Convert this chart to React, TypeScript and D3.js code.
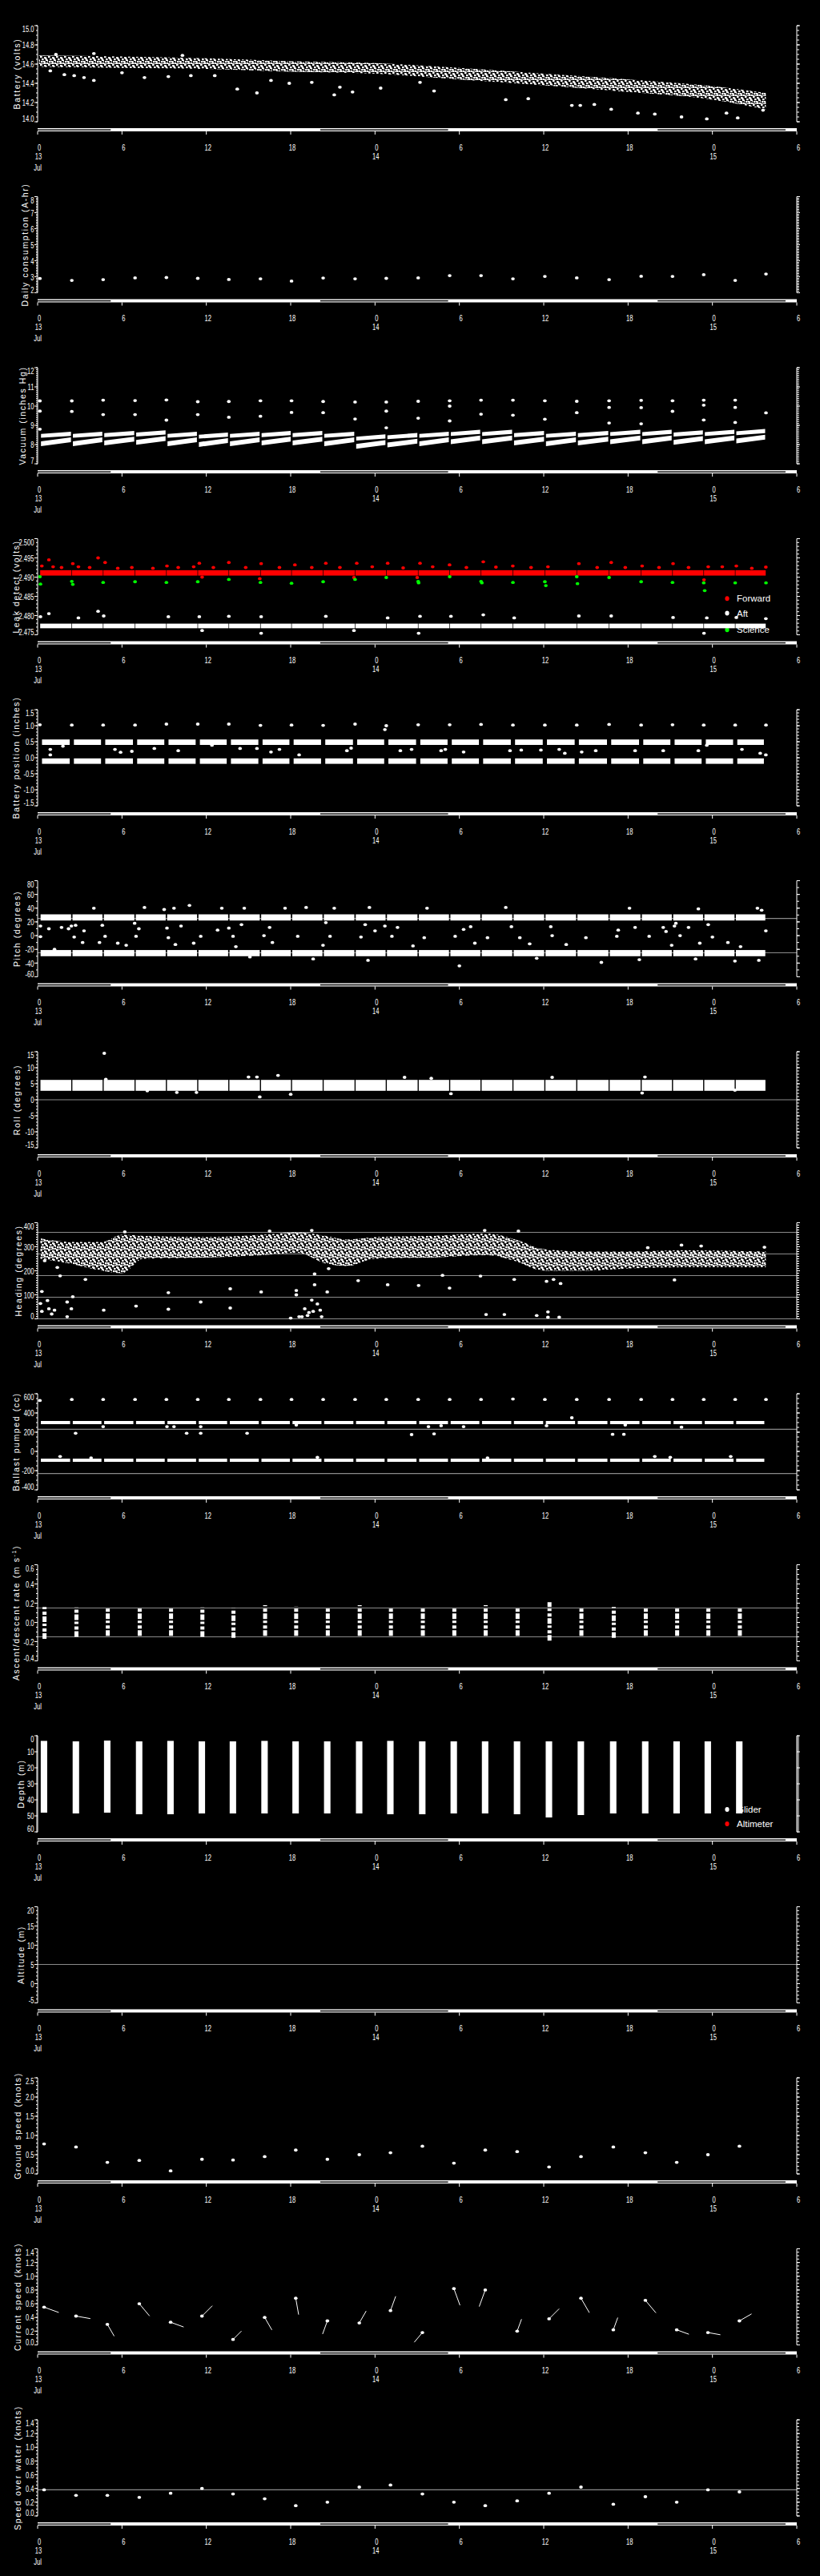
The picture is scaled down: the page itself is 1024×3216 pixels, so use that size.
import React from "react";
import * as d3 from "d3";

const WIDTH = 1024;
const HEIGHT = 3216;
const PLOT_LEFT = 47;
const PLOT_RIGHT = 995;
const FIRST_TOP = 32;
const PANEL_STEP = 213.5;
const PLOT_H = 120;
const FONT = "'Liberation Sans', Arial, sans-serif";
const GREY = "#8a8a8a";

// time axis: hours from 13 Jul 00:00
const hourTicks = [0, 6, 12, 18, 24, 30, 36, 42, 48, 54];
const hourLabels = ["0", "6", "12", "18", "0", "6", "12", "18", "0", "6"];
const dayTicks = [0, 24, 48];
const dayLabels = ["13", "14", "15"];
const nightSpans = [[0, 5.2], [20.1, 29.2], [44.1, 53.2]];

// glider surfacings (hours)
const surfaceTimes = [0.16, 2.43, 4.66, 6.93, 9.16, 11.39, 13.6, 15.85, 18.06, 20.31, 22.58, 24.8,
  27.07, 29.31, 31.54, 33.81, 36.08, 38.35, 40.65, 42.93, 45.16, 47.38, 49.62, 51.81];

// battery (volts)
const batteryBand = [[0.1, 14.57, 14.69], [6, 14.56, 14.68], [12, 14.55, 14.66], [18, 14.52, 14.63],
  [24, 14.5, 14.61], [30, 14.44, 14.56], [36, 14.38, 14.5], [42, 14.31, 14.44], [48, 14.23, 14.37], [51.8, 14.13, 14.3]];
const batteryOutliers = [[0.9, 14.53], [1.3, 14.7], [1.9, 14.49], [2.6, 14.48], [3.3, 14.46], [4.0, 14.43], [4.0, 14.71],
  [6.0, 14.51], [7.6, 14.46], [9.3, 14.47], [10.3, 14.69], [10.9, 14.48], [12.6, 14.48], [14.2, 14.34], [15.6, 14.3],
  [16.6, 14.43], [17.9, 14.4], [19.5, 14.41], [21.1, 14.28], [21.5, 14.36], [22.4, 14.31], [24.4, 14.35], [27.2, 14.41],
  [28.2, 14.32], [33.3, 14.23], [34.9, 14.24], [38.0, 14.17], [38.6, 14.17], [39.6, 14.18], [40.8, 14.13], [42.7, 14.09],
  [43.9, 14.08], [45.8, 14.05], [47.6, 14.03], [49.0, 14.09], [49.8, 14.04], [51.6, 14.12]];

// daily consumption (A-hr), one per surfacing
const consumption = [2.89, 2.77, 2.82, 2.93, 2.95, 2.9, 2.83, 2.87, 2.73, 2.92, 2.87, 2.9, 2.93, 3.07, 3.07,
  2.87, 3.02, 2.93, 2.82, 3.03, 3.02, 3.13, 2.77, 3.17];

// vacuum (inches Hg)
const vacuumSurfHigh = [10.27, 10.27, 10.31, 10.29, 10.32, 10.23, 10.24, 10.28, 10.28, 10.24, 10.21, 10.21,
  10.25, 10.28, 10.31, 10.31, 10.28, 10.25, 10.28, 10.3, 10.28, 10.31, 10.31];
const vacuumSurfLow = [9.74, 9.72, 9.56, 9.56, 9.27, 9.56, 9.42, 9.47, 9.67, 9.66, 9.33, 9.74, 9.37, 9.23,
  9.58, 9.53, 9.32, 9.66, 9.12, 9.08, 9.73, 9.28, 9.15, 9.65];
const vacuumExtra = [[0.16, 8.8], [24.8, 8.87], [29.31, 10.0], [40.65, 9.93], [42.93, 9.92], [47.38, 10.05], [49.62, 9.93]];
const vacuumDiveTop = [8.67, 8.67, 8.71, 8.74, 8.67, 8.63, 8.67, 8.71, 8.71, 8.67, 8.53, 8.6, 8.67, 8.77, 8.77,
  8.71, 8.67, 8.71, 8.77, 8.77, 8.74, 8.77, 8.81];

// leak detect (volts)
const leakForwardBand = [2.4904, 2.4918];
const leakAftBand = [2.4767, 2.4779];
const leakForwardSpikes = [[0.3, 2.4929], [0.8, 2.4945], [1.1, 2.4927], [1.7, 2.4925], [2.5, 2.4935], [2.9, 2.4927],
  [3.7, 2.4925], [4.3, 2.495], [4.8, 2.4938], [5.7, 2.4923], [6.7, 2.4925], [8.2, 2.4923], [9.2, 2.4929], [10.0, 2.4925],
  [11.1, 2.4927], [11.5, 2.4936], [11.7, 2.49], [12.5, 2.4925], [13.6, 2.4938], [14.8, 2.4925], [15.9, 2.4935],
  [15.8, 2.4896], [17.2, 2.4925], [18.3, 2.4932], [19.5, 2.4925], [20.5, 2.4936], [21.5, 2.4925], [22.5, 2.4899],
  [22.7, 2.4936], [23.8, 2.4927], [24.9, 2.4936], [26.0, 2.4924], [27.0, 2.4899], [27.2, 2.4936], [28.1, 2.4927],
  [29.3, 2.4932], [30.5, 2.4925], [31.7, 2.494], [32.6, 2.4926], [33.8, 2.4929], [35.1, 2.4925], [36.3, 2.4927],
  [38.5, 2.4935], [39.8, 2.4925], [40.8, 2.4938], [41.8, 2.4925], [43.0, 2.4929], [44.2, 2.4925], [45.2, 2.4935],
  [46.3, 2.4925], [47.4, 2.4893], [47.7, 2.4927], [48.7, 2.4927], [49.7, 2.4929], [50.8, 2.4923], [51.8, 2.4926]];
const leakAftSpikes = [[0.2, 2.4797], [0.8, 2.4805], [2.9, 2.4794], [4.3, 2.4811], [4.7, 2.4799], [9.3, 2.4797],
  [11.5, 2.4797], [11.7, 2.4761], [13.6, 2.4798], [15.9, 2.4797], [15.9, 2.4754], [20.5, 2.4798], [22.5, 2.4761],
  [24.9, 2.4794], [27.2, 2.4798], [27.1, 2.4754], [29.4, 2.4798], [31.7, 2.4802], [33.9, 2.4794], [38.5, 2.4799],
  [40.8, 2.4799], [45.2, 2.4795], [47.4, 2.4754], [47.6, 2.4794], [49.7, 2.4795], [51.8, 2.4792]];
const leakScience = [[0.16, 2.4901], [0.2, 2.4882], [2.43, 2.4889], [2.5, 2.4881], [4.66, 2.4886], [6.93, 2.4888],
  [9.16, 2.4886], [11.39, 2.4888], [13.6, 2.4894], [15.85, 2.4886], [18.06, 2.4884], [20.31, 2.4888], [22.58, 2.4894],
  [24.8, 2.4899], [27.07, 2.4889], [27.1, 2.4885], [29.31, 2.4901], [31.54, 2.4889], [31.6, 2.4885], [33.81, 2.4886],
  [36.08, 2.4888], [36.15, 2.4878], [38.35, 2.4901], [38.4, 2.4883], [40.65, 2.4899], [42.93, 2.4888], [45.16, 2.4886],
  [47.38, 2.4885], [47.45, 2.4865], [49.62, 2.4885], [51.81, 2.4885]];

// battery position (inches)
const battPosSurface = [1.03, 1.02, 1.02, 1.02, 1.05, 1.05, 1.05, 1.01, 1.02, 1.01, 1.05, 1.0, 1.03, 1.03, 1.04,
  1.02, 1.02, 1.02, 1.04, 1.02, 1.03, 1.02, 1.02, 1.02];
const battPosUpper = [0.4, 0.57];
const battPosLower = [-0.19, -0.02];
const battPosScatter = [[0.9, 0.09], [0.9, 0.26], [1.8, 0.36], [5.5, 0.26], [5.9, 0.17], [6.7, 0.2], [8.3, 0.29],
  [10.0, 0.22], [12.4, 0.39], [14.4, 0.29], [15.6, 0.29], [16.6, 0.18], [17.2, 0.26], [18.6, 0.09], [22.0, 0.22],
  [22.3, 0.3], [24.7, 0.88], [25.8, 0.22], [26.6, 0.26], [28.7, 0.22], [29.0, 0.26], [30.3, 0.18], [33.6, 0.22],
  [34.4, 0.24], [35.8, 0.24], [37.1, 0.26], [37.5, 0.14], [38.7, 0.18], [39.7, 0.22], [42.5, 0.22], [44.5, 0.22],
  [47.0, 0.22], [47.6, 0.39], [50.1, 0.26], [51.4, 0.14], [51.8, 0.09]];

// pitch (degrees)
const pitchUpBand = [22, 31];
const pitchDownBand = [-30, -21];
const pitchScatter = [[0.2, 14], [0.2, -1.5], [0.8, 10], [1.2, -20], [1.7, 12], [2.2, 10], [2.4, 14], [2.6, -2],
  [2.7, 15], [3.3, 7], [3.2, -10], [4.0, 40], [4.4, -10], [4.6, 15], [4.8, -1], [5.7, -11], [6.3, -14], [6.9, 18],
  [7.0, -1], [7.2, 10], [7.6, 41], [9.0, 38], [9.2, 11], [9.3, -3], [9.7, 40], [9.8, -13], [10.2, 14], [10.8, 44],
  [11.1, -11], [11.6, -1], [12.8, 8], [13.1, 40], [13.6, 11], [13.9, -1], [14.1, -16], [14.5, 16], [14.7, 40],
  [15.1, -31], [16.1, 0], [16.5, 12], [16.7, -10], [17.6, 40], [18.5, -1], [19.1, 41], [19.6, -34], [20.3, -14],
  [20.5, 19], [20.8, -1], [21.1, 40], [23.0, -2], [23.3, 16], [23.5, -36], [23.6, 41], [24.0, 7], [24.7, 14],
  [25.2, -1], [25.6, 12], [26.7, -15], [27.5, -3], [27.7, 40], [29.7, -1], [30.0, -44], [30.3, 9], [30.8, 13],
  [31.1, -11], [32.0, -3], [33.3, 41], [33.7, 13], [34.3, -3], [35.0, -12], [35.5, -33], [36.6, 0], [36.5, 13],
  [37.6, -13], [39.0, -3], [40.1, -39], [41.2, -1], [41.3, 8], [42.1, 40], [42.5, 12], [42.8, -35], [43.5, -1],
  [44.5, 12], [44.7, 6], [45.1, -14], [45.4, 18], [45.3, 14], [45.7, 0], [46.3, 12], [46.8, -34], [47.0, 39],
  [47.1, -11], [47.7, 16], [48.0, -2], [49.1, -10], [49.6, -37], [50.0, -16], [51.2, 40], [51.5, 37], [51.3, -36], [51.8, 7]];

// roll (degrees)
const rollBand = [2.8, 6.2];
const rollScatter = [[4.74, 14.5], [4.85, 6.4], [15.8, 0.9], [18.0, 1.7], [17.1, 7.6], [15.0, 7.1], [15.6, 7.1],
  [43.2, 7.1], [36.6, 7.0], [29.4, 1.9], [11.3, 2.3], [9.9, 2.3], [7.8, 2.8], [26.1, 7.0], [28.0, 6.7], [43.0, 2.1], [49.6, 3.0]];

// heading (degrees)
const headingBand = [[0.2, 250, 335], [2.3, 230, 320], [4.6, 200, 320], [6, 190, 350], [7.5, 250, 345], [12, 255, 340],
  [16, 265, 350], [18.5, 275, 360], [20.5, 230, 345], [22, 220, 330], [24, 250, 340], [28, 255, 345], [32, 265, 355],
  [34, 240, 330], [36, 200, 290], [39, 200, 280], [42, 210, 280], [46, 215, 285], [51.8, 215, 280]];
const headingScatter = [[0.3, 114], [0.2, 64], [0.3, 31], [0.7, 76], [0.8, 42], [1.0, 20], [1.2, 36], [0.5, 242],
  [1.4, 214], [1.6, 179], [2.1, 9], [2.1, 70], [2.4, 42], [2.5, 92], [3.4, 164], [4.7, 36], [7.0, 53], [9.3, 109],
  [9.3, 40], [11.6, 70], [13.7, 45], [13.7, 125], [15.9, 112], [18.0, 3], [18.4, 100], [18.4, 118], [18.6, 9],
  [18.8, 9], [19.0, 42], [19.2, 14], [19.3, 26], [19.5, 78], [19.6, 31], [19.7, 142], [19.9, 62], [20.1, 36],
  [20.2, 9], [20.6, 112], [19.7, 187], [20.7, 209], [22.8, 159], [24.9, 142], [27.1, 139], [28.8, 181], [29.3, 128],
  [31.5, 178], [31.9, 18], [33.2, 18], [33.9, 164], [35.5, 14], [36.3, 29], [36.3, 7], [37.1, 7], [36.2, 156],
  [36.7, 164], [37.2, 147], [45.3, 162], [43.4, 296], [45.8, 307], [47.2, 303], [51.7, 298], [6.2, 362], [16.5, 365],
  [19.5, 368], [31.8, 368], [34.2, 365]];

// ballast pumped (cc)
const ballastSurface = [530, 540, 540, 540, 540, 540, 540, 540, 540, 540, 540, 540, 540, 540, 540, 545, 540,
  540, 540, 540, 540, 540, 540, 540];
const ballastHigh = 300;
const ballastLow = -92;
const ballastScatter = [[4.66, 258], [9.2, 258], [9.7, 258], [11.6, 258], [2.7, 189], [10.6, 189], [11.6, 189],
  [14.9, 189], [26.6, 175], [28.2, 183], [27.8, 258], [28.7, 267], [30.3, 258], [36.2, 267], [38.0, 350], [40.9, 178],
  [41.7, 178], [41.8, 275], [45.8, 253], [18.4, 275], [1.6, -53], [3.8, -67], [19.9, -61], [32.0, -67], [43.9, -53],
  [45.0, -61], [49.3, -53]];

// ascent/descent rate (m/s), per dive
const rateMin = [-0.17, -0.15, -0.14, -0.14, -0.14, -0.15, -0.16, -0.14, -0.14, -0.14, -0.14, -0.14, -0.14, -0.14,
  -0.14, -0.14, -0.19, -0.14, -0.16, -0.14, -0.14, -0.14, -0.14];
const rateMax = [0.16, 0.16, 0.16, 0.16, 0.16, 0.16, 0.15, 0.18, 0.17, 0.16, 0.18, 0.16, 0.16, 0.16, 0.18, 0.16,
  0.21, 0.15, 0.16, 0.16, 0.16, 0.16, 0.16];

// depth (m), per dive
const depthMin = [3.2, 3.5, 3.0, 3.5, 3.2, 3.5, 3.5, 3.2, 3.5, 3.5, 3.5, 3.2, 3.5, 3.5, 3.5, 3.5, 3.5, 3.5, 3.5,
  3.5, 3.5, 3.5, 3.5];
const depthMax = [48, 48.5, 48, 49, 49, 48.5, 48.5, 48.5, 48.5, 48.5, 48.5, 49, 49, 48.5, 48.5, 49, 51, 49.5, 48.5,
  48.5, 48.5, 48.5, 48.5];

// speeds (knots), one per dive
const groundSpeed = [0.78, 0.7, 0.3, 0.35, 0.08, 0.38, 0.36, 0.45, 0.62, 0.38, 0.5, 0.55, 0.72, 0.28, 0.62, 0.58,
  0.18, 0.45, 0.7, 0.55, 0.3, 0.5, 0.72];
const currentSpeed = [0.55, 0.42, 0.3, 0.6, 0.33, 0.42, 0.08, 0.4, 0.68, 0.35, 0.32, 0.5, 0.18, 0.82, 0.8, 0.2,
  0.38, 0.68, 0.22, 0.65, 0.22, 0.18, 0.35];
const currentDir = [110, 100, 150, 140, 110, 45, 45, 150, 170, 200, 30, 20, 220, 160, 200, 20, 45, 150, 20, 140,
  110, 100, 60];
const speedOverWater = [0.38, 0.3, 0.3, 0.27, 0.33, 0.4, 0.32, 0.25, 0.15, 0.2, 0.42, 0.45, 0.32, 0.2, 0.15, 0.22,
  0.33, 0.42, 0.17, 0.28, 0.2, 0.38, 0.35];

// irregular speckle used to texture the dense point clouds
const speckCells = [[0, 0], [5, 1], [2, 3], [7, 4], [1, 6], [4, 6], [8, 8], [3, 9], [6, 2], [9, 5], [0, 9], [5, 8]];

const x = d3.scaleLinear().domain([0, 54]).range([PLOT_LEFT, PLOT_RIGHT]);
const dives = surfaceTimes.slice(0, -1).map((s, i) => [s, surfaceTimes[i + 1]]);

type Y = d3.ScaleLinear<number, number>;

const Label = ({ x: tx, y: ty, anchor = "middle", children }: any) => (
  <text transform={`translate(${tx},${ty}) scale(0.66,1)`} textAnchor={anchor} dy="0.36em" fontSize={11.5}
    fill="#fff" fontFamily={FONT}>{children}</text>
);

const Dot = ({ cx, cy, fill = "#fff" }: any) => <ellipse cx={cx} cy={cy} rx={2.3} ry={1.9} fill={fill} />;

function diveRects(y: Y, lo: number, hi: number, fill: string, inset = 0.06) {
  return dives.map(([a, b], i) => {
    const y1 = y(lo), y2 = y(hi);
    return <rect key={i} x={x(a + inset)} width={x(b - inset) - x(a + inset)} y={Math.min(y1, y2)}
      height={Math.abs(y1 - y2)} fill={fill} />;
  });
}

function Legend({ items, top }: { items: [string, string, number][]; top: number }) {
  return (
    <g>
      {items.map(([name, c, dy]) => (
        <g key={name}>
          <ellipse cx={908} cy={top + dy} rx={2.6} ry={3} fill={c} />
          <text x={920} y={top + dy} dy="0.36em" fontSize={11.5} fill="#fff" fontFamily={FONT}>{name}</text>
        </g>
      ))}
    </g>
  );
}

function TimeAxis({ top }: { top: number }) {
  const yb = top + 128;
  return (
    <g>
      <rect x={x(0)} y={yb} width={x(54) - x(0)} height={4} fill="#fff" />
      {nightSpans.map(([a, b], i) => (
        <rect key={i} x={x(a)} y={yb + 1.4} width={x(b) - x(a)} height={1.4} fill="#000" />
      ))}
      {hourTicks.map((h) => (
        <line key={h} x1={x(h)} x2={x(h)} y1={yb + 4} y2={yb + 8} stroke="#fff" />
      ))}
      {hourTicks.map((h, i) => (
        <Label key={h} x={x(h) + 2} y={top + 151.5}>{hourLabels[i]}</Label>
      ))}
      {dayTicks.map((h, i) => (
        <Label key={h} x={x(h) + 1} y={top + 162.5}>{dayLabels[i]}</Label>
      ))}
      <Label x={x(0)} y={top + 176.5}>Jul</Label>
    </g>
  );
}

type PanelProps = {
  index: number;
  label: React.ReactNode;
  labelX: number;
  domain: [number, number];
  ticks: number[];
  fmt: (v: number) => string;
  minorCount: number;
  flip?: boolean;
  refLines?: number[];
  children: (y: Y, top: number) => React.ReactNode;
};

function Panel({ index, label, labelX, domain, ticks, fmt, minorCount, flip, refLines = [], children }: PanelProps) {
  const top = FIRST_TOP + index * PANEL_STEP;
  const bottom = top + PLOT_H;
  const y = d3.scaleLinear().domain(domain).range(flip ? [top, bottom] : [bottom, top]);
  const minor = d3.range(minorCount + 1).map((i) => domain[0] + (i * (domain[1] - domain[0])) / minorCount);
  return (
    <g>
      {refLines.map((v) => (
        <line key={v} x1={PLOT_LEFT} x2={PLOT_RIGHT} y1={y(v)} y2={y(v)} stroke={GREY} strokeWidth={1.2} />
      ))}
      {children(y, top)}
      <line x1={PLOT_LEFT} x2={PLOT_LEFT} y1={top} y2={bottom} stroke="#fff" />
      <line x1={PLOT_RIGHT} x2={PLOT_RIGHT} y1={top} y2={bottom} stroke="#fff" />
      {minor.map((v, i) => (
        <g key={i}>
          <line x1={PLOT_LEFT - 2} x2={PLOT_LEFT} y1={y(v)} y2={y(v)} stroke="#fff" />
          <line x1={PLOT_RIGHT} x2={PLOT_RIGHT + 3} y1={y(v)} y2={y(v)} stroke="#fff" />
        </g>
      ))}
      {ticks.map((v) => {
        const yy = y(v);
        const ly = Math.abs(yy - top) < 1 ? yy + 4 : Math.abs(yy - bottom) < 1 ? yy - 4 : yy;
        return (
          <g key={v}>
            <line x1={PLOT_LEFT - 4} x2={PLOT_LEFT} y1={yy} y2={yy} stroke="#fff" />
            <line x1={PLOT_RIGHT} x2={PLOT_RIGHT + 4} y1={yy} y2={yy} stroke="#fff" />
            <Label x={PLOT_LEFT - 4.5} y={ly} anchor="end">{fmt(v)}</Label>
          </g>
        );
      })}
      <text transform={`translate(${labelX},${top + 60}) rotate(-90)`} textAnchor="middle" dy="0.35em"
        fontSize={10.5} letterSpacing={1.6} fill="#fff" fontFamily={FONT}>{label}</text>
      <TimeAxis top={top} />
    </g>
  );
}

const f = (spec: string) => (v: number) => d3.format(spec)(v).replace("\u2212", "-");

function App() {
  const diveMid = (i: number) => dives[i][0] + 0.3;
  const area = (y: Y) => d3.area<number[]>().x((d) => x(d[0])).y0((d) => y(d[1])).y1((d) => y(d[2]))
    .curve(d3.curveMonotoneX);
  return (
    <svg width={WIDTH} height={HEIGHT} style={{ position: "absolute", left: 0, top: 0, background: "#000" }}>
      <defs>
        <pattern id="speck" width="10" height="10" patternUnits="userSpaceOnUse">
          {speckCells.map(([cx, cy], i) => <rect key={i} x={cx} y={cy} width={2.6} height={2.2} fill="#fff" />)}
        </pattern>
      </defs>
      <rect width={WIDTH} height={HEIGHT} fill="#000" />

      <Panel index={0} label="Battery (volts)" labelX={21.5} domain={[14, 15]} ticks={d3.range(14, 15.01, 0.2)}
        fmt={f(".1f")} minorCount={20}>
        {(y) => (
          <g>
            <path d={area(y)(batteryBand) || ""} fill="url(#speck)" />
            {batteryOutliers.map(([h, v], i) => <Dot key={i} cx={x(h)} cy={y(v)} />)}
          </g>
        )}
      </Panel>

      <Panel index={1} label="Daily consumption (A-hr)" labelX={31.5} domain={[2, 8]} ticks={d3.range(2, 8.01, 1)}
        fmt={f("d")} minorCount={60}>
        {(y) => consumption.map((v, i) => <Dot key={i} cx={x(surfaceTimes[i])} cy={y(v)} />)}
      </Panel>

      <Panel index={2} label="Vacuum (inches Hg)" labelX={28.5} domain={[7, 12]} ticks={d3.range(7, 12.01, 1)}
        fmt={f("d")} minorCount={50}>
        {(y) => (
          <g>
            {dives.map(([a, b], i) => {
              const t = vacuumDiveTop[i];
              const xa = x(a + 0.08), xb = x(b - 0.06);
              const up = `${xa},${y(t - 0.32)} ${xa},${y(t - 0.12)} ${xb},${y(t)} ${xb},${y(t - 0.22)}`;
              const lo = `${xa},${y(t - 0.75)} ${xa},${y(t - 0.5)} ${xb},${y(t - 0.3)} ${xb},${y(t - 0.55)}`;
              return (
                <g key={i}>
                  <polygon points={up} fill="#fff" />
                  <polygon points={lo} fill="#fff" />
                </g>
              );
            })}
            {vacuumSurfHigh.map((v, i) => <Dot key={"h" + i} cx={x(surfaceTimes[i])} cy={y(v)} />)}
            {vacuumSurfLow.map((v, i) => <Dot key={"l" + i} cx={x(surfaceTimes[i])} cy={y(v)} />)}
            {vacuumExtra.map(([h, v], i) => <Dot key={"e" + i} cx={x(h)} cy={y(v)} />)}
          </g>
        )}
      </Panel>

      <Panel index={3} label="Leak detect (volts)" labelX={20} domain={[2.475, 2.5]}
        ticks={d3.range(0, 6).map((i) => 2.475 + i * 0.005)} fmt={f(".3f")} minorCount={25}>
        {(y, top) => (
          <g>
            <Legend top={top} items={[["Forward", "#ff0000", 74.7], ["Aft", "#fff", 93], ["Science", "#00ff00", 113.7]]} />
            {diveRects(y, leakForwardBand[0], leakForwardBand[1], "#ff0000", 0.02)}
            {leakForwardSpikes.map(([h, v], i) => <Dot key={"f" + i} cx={x(h)} cy={y(v)} fill="#ff0000" />)}
            {diveRects(y, leakAftBand[0], leakAftBand[1], "#fff", 0.02)}
            {leakAftSpikes.map(([h, v], i) => <Dot key={"a" + i} cx={x(h)} cy={y(v)} />)}
            {leakScience.map(([h, v], i) => <Dot key={"s" + i} cx={x(h)} cy={y(v)} fill="#00ff00" />)}
          </g>
        )}
      </Panel>

      <Panel index={4} label="Battery position (inches)" labelX={20.7} domain={[-1.5, 1.5]}
        ticks={d3.range(-1.5, 1.51, 0.5)} fmt={f(".1f")} minorCount={30}>
        {(y) => (
          <g>
            {diveRects(y, battPosUpper[0], battPosUpper[1], "#fff", 0.15)}
            {diveRects(y, battPosLower[0], battPosLower[1], "#fff", 0.15)}
            {battPosSurface.map((v, i) => <Dot key={"s" + i} cx={x(surfaceTimes[i])} cy={y(v)} />)}
            {battPosScatter.map(([h, v], i) => <Dot key={"p" + i} cx={x(h)} cy={y(v)} />)}
          </g>
        )}
      </Panel>

      <Panel index={5} label="Pitch (degrees)" labelX={21.7} domain={[-60, 80]} ticks={d3.range(-60, 81, 20)}
        fmt={f("d")} minorCount={14} refLines={[25, -25]}>
        {(y) => (
          <g>
            {diveRects(y, pitchUpBand[0], pitchUpBand[1], "#fff", 0.05)}
            {diveRects(y, pitchDownBand[0], pitchDownBand[1], "#fff", 0.05)}
            {pitchScatter.map(([h, v], i) => <Dot key={i} cx={x(h)} cy={y(v)} />)}
          </g>
        )}
      </Panel>

      <Panel index={6} label="Roll (degrees)" labelX={21.7} domain={[-15, 15]} ticks={d3.range(-15, 16, 5)}
        fmt={f("d")} minorCount={30} refLines={[0]}>
        {(y) => (
          <g>
            {diveRects(y, rollBand[0], rollBand[1], "#fff", 0.04)}
            {rollScatter.map(([h, v], i) => <Dot key={i} cx={x(h)} cy={y(v)} />)}
          </g>
        )}
      </Panel>

      <Panel index={7} label="Heading (degrees)" labelX={23.3} domain={[0, 400]} ticks={d3.range(0, 401, 100)}
        fmt={f("d")} minorCount={40} refLines={[0, 90, 180, 270, 360]}>
        {(y) => (
          <g>
            <path d={area(y)(headingBand) || ""} fill="url(#speck)" />
            {headingScatter.map(([h, v], i) => <Dot key={i} cx={x(h)} cy={y(v)} />)}
          </g>
        )}
      </Panel>

      <Panel index={8} label="Ballast pumped (cc)" labelX={20} domain={[-400, 600]} ticks={d3.range(-400, 601, 200)}
        fmt={f("d")} minorCount={20} refLines={[230, -230]}>
        {(y) => (
          <g>
            {dives.map(([a, b], i) => (
              <g key={i}>
                <rect x={x(a + 0.07)} width={x(b - 0.12) - x(a + 0.07)} y={y(ballastHigh) - 2} height={4} fill="#fff" />
                <rect x={x(a + 0.07)} width={x(b - 0.12) - x(a + 0.07)} y={y(ballastLow) - 2} height={4} fill="#fff" />
              </g>
            ))}
            {ballastSurface.map((v, i) => <Dot key={"s" + i} cx={x(surfaceTimes[i])} cy={y(v)} />)}
            {ballastScatter.map(([h, v], i) => <Dot key={"p" + i} cx={x(h)} cy={y(v)} />)}
          </g>
        )}
      </Panel>

      <Panel index={9} label={<>Ascent/descent rate (m s<tspan dy="-4" fontSize={7}>-1</tspan><tspan dy="4">)</tspan></>}
        labelX={20} domain={[-0.4, 0.6]} ticks={d3.range(-0.4, 0.61, 0.2)} fmt={f(".1f")} minorCount={20}
        refLines={[0.15, -0.15]}>
        {(y) => dives.map(([a], i) => (
          <line key={i} x1={x(a + 0.33)} x2={x(a + 0.33)} y1={y(rateMin[i])} y2={y(rateMax[i])} stroke="#fff"
            strokeWidth={5} strokeDasharray="7 2 4 3 3 2" />
        ))}
      </Panel>

      <Panel index={10} label="Depth (m)" labelX={26.7} domain={[0, 60]} flip ticks={d3.range(0, 61, 10)}
        fmt={f("d")} minorCount={60}>
        {(y, top) => (
          <g>
            {dives.map(([a], i) => (
              <rect key={i} x={x(a + 0.06)} width={x(a + 0.52) - x(a + 0.06)} y={y(depthMin[i])}
                height={y(depthMax[i]) - y(depthMin[i])} fill="#fff" />
            ))}
            <Legend top={top} items={[["Glider", "#fff", 92], ["Altimeter", "#ff0000", 110]]} />
          </g>
        )}
      </Panel>

      <Panel index={11} label="Altitude (m)" labelX={26} domain={[-5, 20]} ticks={d3.range(-5, 21, 5)}
        fmt={f("d")} minorCount={25} refLines={[5]}>
        {() => null}
      </Panel>

      <Panel index={12} label="Ground speed (knots)" labelX={22} domain={[0, 2.5]} ticks={d3.range(0, 2.51, 0.5)}
        fmt={f(".1f")} minorCount={25}>
        {(y) => groundSpeed.map((v, i) => <Dot key={i} cx={x(diveMid(i))} cy={y(v)} />)}
      </Panel>

      <Panel index={13} label="Current speed (knots)" labelX={22} domain={[0, 1.4]} ticks={d3.range(0, 1.41, 0.2)}
        fmt={f(".1f")} minorCount={28}>
        {(y) => currentSpeed.map((v, i) => {
          const cx = x(diveMid(i)), cy = y(v);
          const a = (currentDir[i] * Math.PI) / 180;
          const len = 14 + v * 10;
          return (
            <g key={i}>
              <line x1={cx} y1={cy} x2={cx + len * Math.sin(a)} y2={cy - len * Math.cos(a)} stroke="#fff" />
              <Dot cx={cx} cy={cy} />
            </g>
          );
        })}
      </Panel>

      <Panel index={14} label="Speed over water (knots)" labelX={22} domain={[0, 1.4]} ticks={d3.range(0, 1.41, 0.2)}
        fmt={f(".1f")} minorCount={28} refLines={[0.38]}>
        {(y) => speedOverWater.map((v, i) => <Dot key={i} cx={x(diveMid(i))} cy={y(v)} />)}
      </Panel>
    </svg>
  );
}

export default App;
